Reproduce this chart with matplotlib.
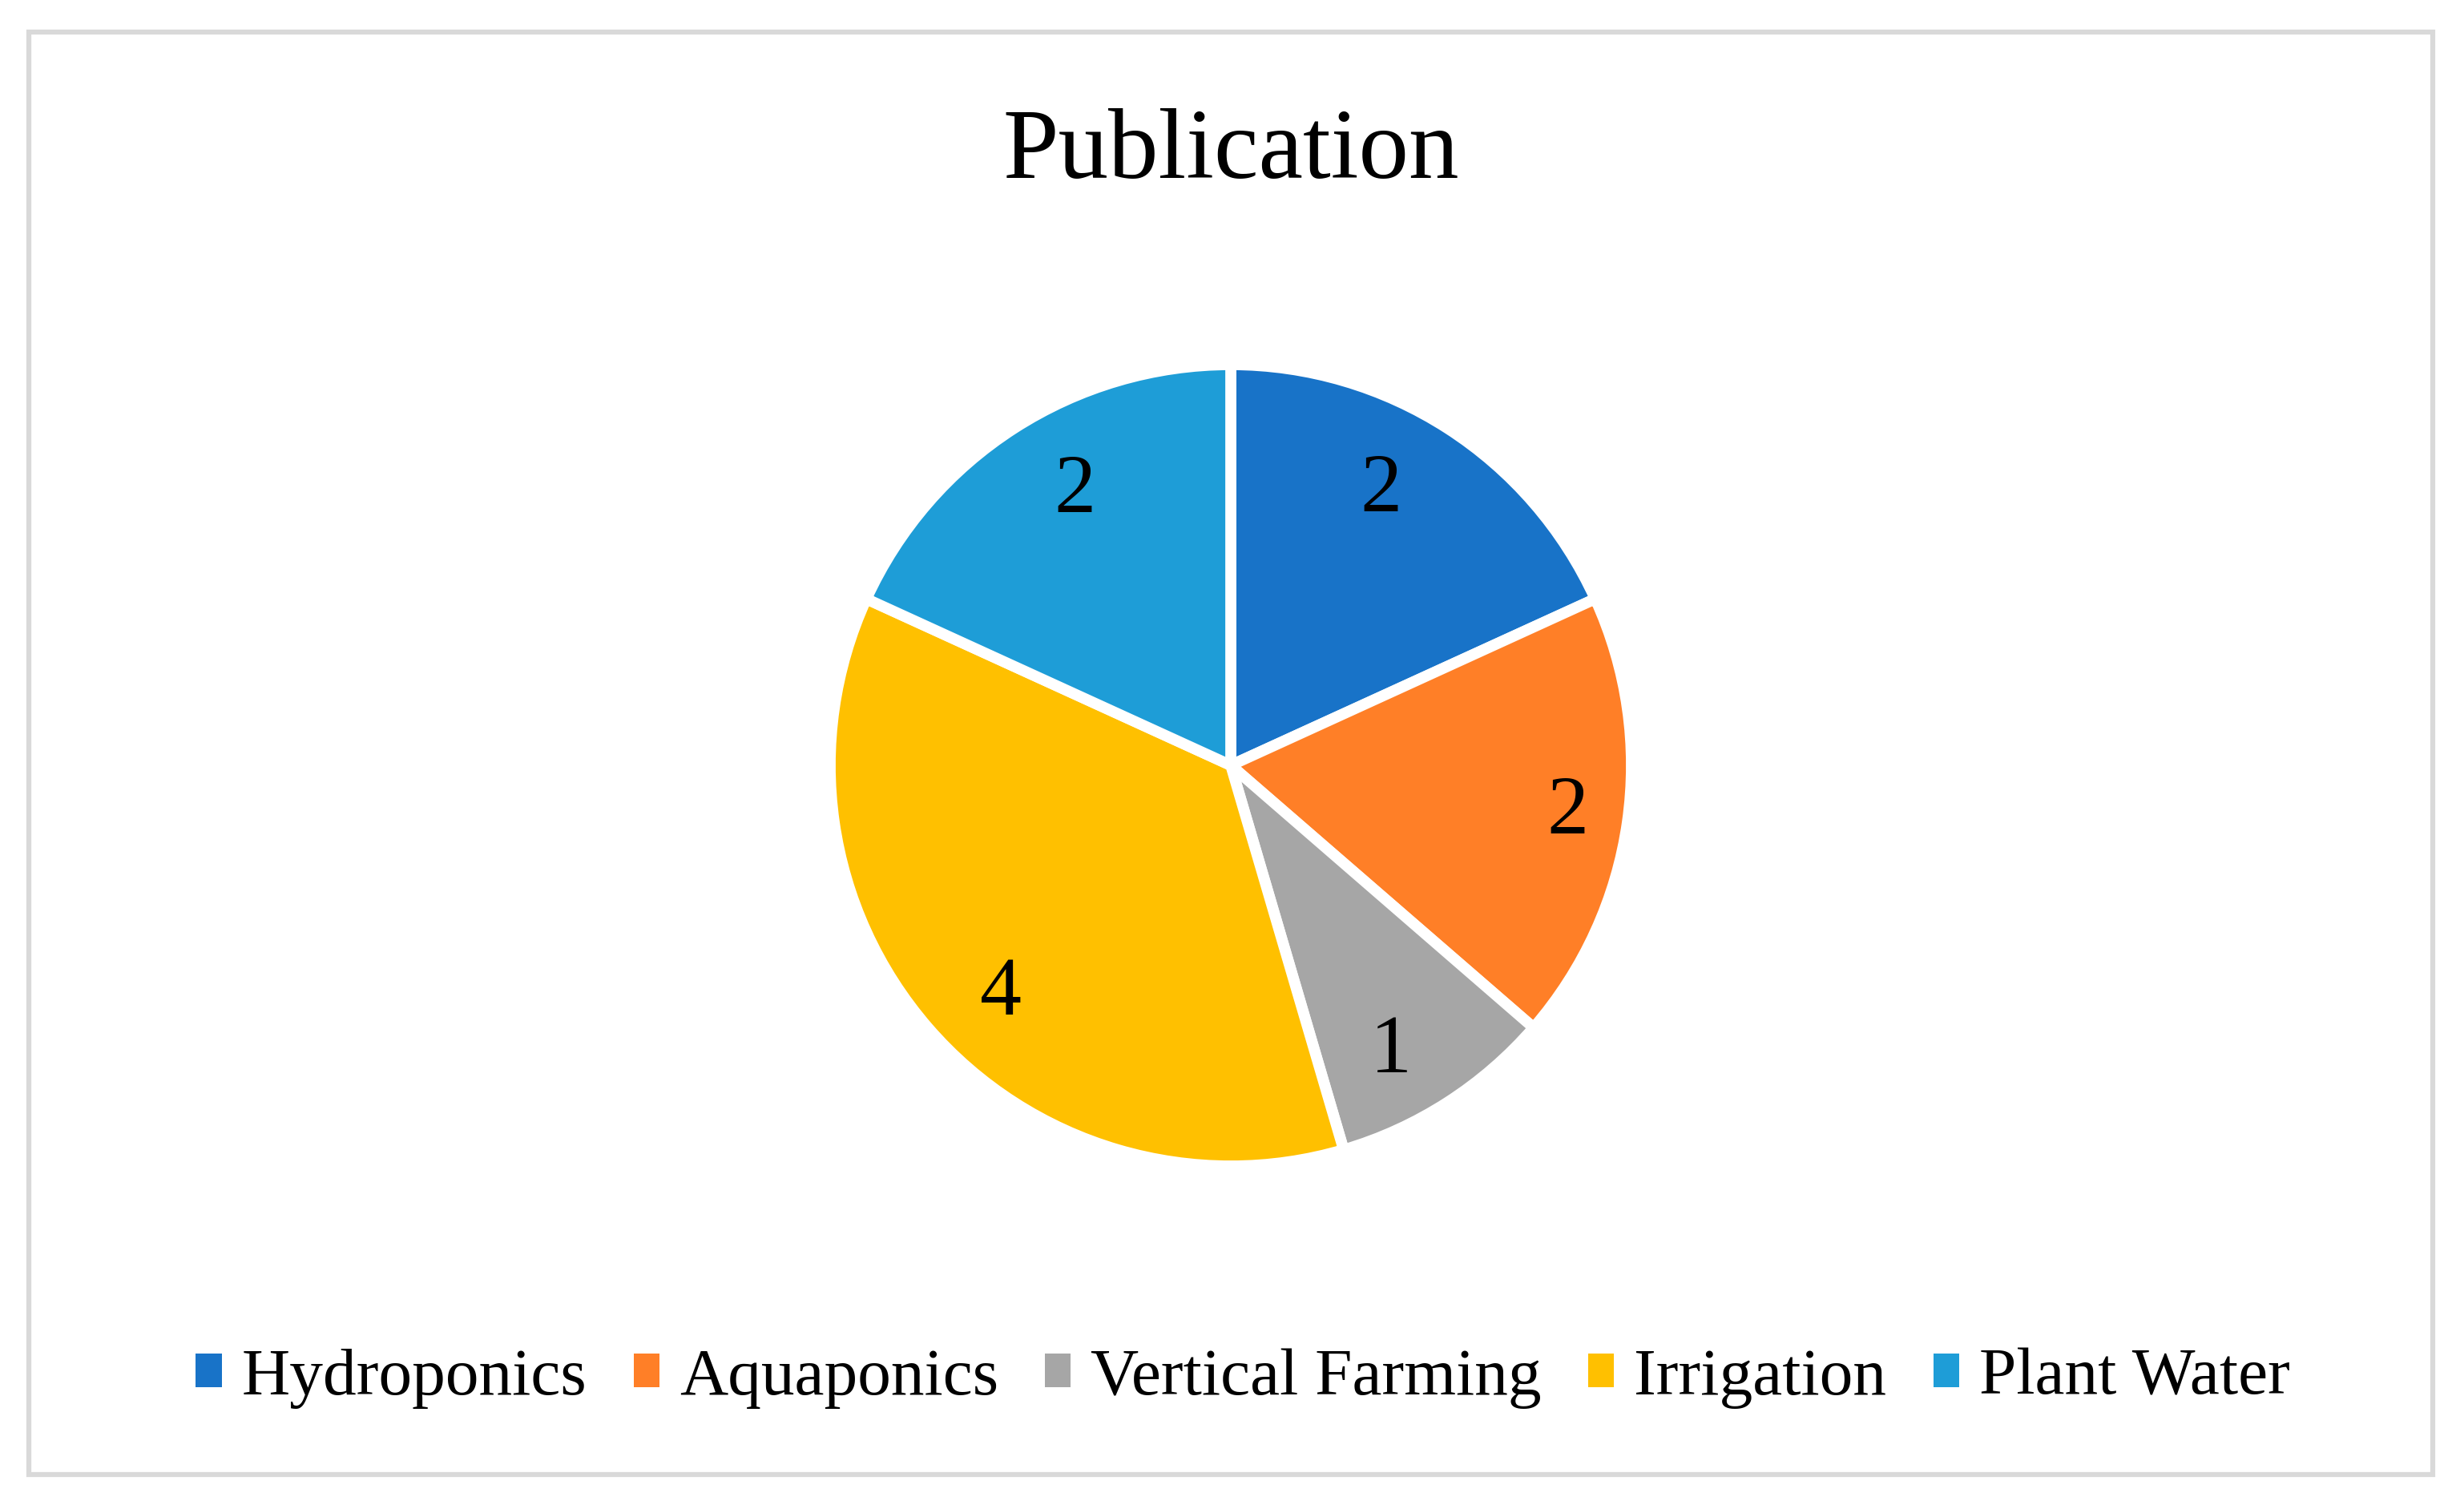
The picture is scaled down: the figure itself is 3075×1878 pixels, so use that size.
"""Pie chart of publication counts by topic."""

import matplotlib

matplotlib.use("Agg")
import matplotlib.pyplot as plt  # noqa: E402
import numpy as np  # noqa: E402
from matplotlib.patches import Rectangle  # noqa: E402

CATEGORIES = ["Hydroponics", "Aquaponics", "Vertical Farming", "Irrigation", "Plant Water"]
COUNTS = [2, 2, 1, 4, 2]
COLORS = ["#1873C8", "#FF7F27", "#A6A6A6", "#FFC000", "#1E9DD7"]

W, H, DPI = 3075, 1878, 300

plt.rcParams["font.family"] = ["Liberation Serif", "DejaVu Serif"]

fig = plt.figure(figsize=(W / DPI, H / DPI), dpi=DPI)

# pie: centre (1536, 955) px, radius 500 px
cx, cy, r = 1536, 955, 500
ax = fig.add_axes([(cx - r) / W, 1 - (cy + r) / H, 2 * r / W, 2 * r / H])
wedges, texts = ax.pie(
    COUNTS, colors=COLORS, startangle=90, counterclock=False,
    labels=[str(c) for c in COUNTS], labeldistance=0.8,
    wedgeprops=dict(edgecolor="white", linewidth=3.3),
    textprops=dict(fontsize=25, color="black"),
)
# excel-style "best fit" placement: small nudges off the mid-angle
nudge_deg = [4, 0, -3.5, 4, -3]
dist = [0.78, 0.85, 0.82, 0.81, 0.785]
for w, t, dn, d in zip(wedges, texts, nudge_deg, dist):
    a = np.deg2rad((w.theta1 + w.theta2) / 2 + dn)
    t.set_position((d * np.cos(a), d * np.sin(a)))
    t.set_ha("center")
    t.set_va("center")
ax.set_xlim(-1, 1)
ax.set_ylim(-1, 1)
ax.set_aspect("equal")
ax.axis("off")

fig.text(cx / W, 1 - 222 / H, "Publication", ha="center", va="baseline", fontsize=30)

leg = fig.legend(wedges, CATEGORIES, loc="center", bbox_to_anchor=(1551 / W, 1 - 1720 / H),
                 ncol=5, frameon=False, fontsize=20, handlelength=0.385, handleheight=0.4,
                 handletextpad=0.3, columnspacing=0.7)
for hnd in leg.legend_handles:
    hnd.set_linewidth(0)

# light grey outer frame
fig.patches.append(Rectangle((36 / W, 38 / H), (3036 - 36) / W, (1838 - 38) / H,
                             transform=fig.transFigure, fill=False,
                             edgecolor="#D9D9D9", linewidth=1.5))

fig.savefig("out.png", dpi=DPI, facecolor="white")
